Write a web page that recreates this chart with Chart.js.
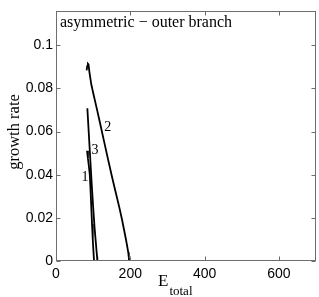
<!DOCTYPE html>
<html><head><meta charset="utf-8">
<script src="https://cdn.jsdelivr.net/npm/chart.js@4"></script>
<style>html,body{margin:0;padding:0;background:#fff}</style>
</head><body>
<canvas id="c" width="319" height="297" style="width:319px;height:297px;display:block"></canvas>
<script>
// ---- data ----
const xTicks = [0, 200, 400, 600];
const yTicks = [0, 0.02, 0.04, 0.06, 0.08, 0.1];

const curve1E = [83.6, 86, 88.5, 91, 93, 95, 97, 99, 101, 102.4];
const curve1G = [0.0511, 0.0475, 0.0440, 0.0400, 0.0330, 0.0250, 0.0170, 0.0100, 0.0040, 0.0];

const curve2E = [82.5, 84, 86, 87.5, 90, 95, 100, 110, 120, 130, 140, 150, 160, 170, 178, 184, 189, 192, 194.5, 196, 196.8];
const curve2G = [0.0884, 0.0903, 0.0914, 0.0911, 0.0876, 0.0819, 0.0780, 0.0705, 0.0628, 0.0550, 0.0472, 0.0396, 0.0323, 0.0252, 0.0190, 0.0138, 0.0094, 0.0065, 0.0040, 0.0018, 0.0];

const curve3E = [84.4, 88, 92, 96, 100, 104, 108, 110.5, 111.3];
const curve3G = [0.0708, 0.0600, 0.0480, 0.0360, 0.0250, 0.0150, 0.0070, 0.0020, 0.0];

const curveLabels = ['1', '2', '3'];
const curveLabelE = [78, 139, 105];
const curveLabelG = [0.039, 0.0619, 0.0515];

const titleText = 'asymmetric \u2212 outer branch';
const yTitle = 'growth rate';
const xTitleMain = 'E';
const xTitleSub = 'total';

const toPts = (xs, ys) => xs.map((x, i) => ({x: x, y: ys[i]}));

const decor = {
  id: 'decor',
  afterDraw(chart) {
    const ctx = chart.ctx, a = chart.chartArea;
    const xs = chart.scales.x, ys = chart.scales.y;
    ctx.save();
    ctx.strokeStyle = '#6e6e6e';
    ctx.lineWidth = 1;
    const L = Math.round(a.left) + 0.5, R = Math.round(a.right) - 0.5;
    const T = Math.round(a.top) + 0.5, B = Math.round(a.bottom) - 0.5;
    ctx.strokeRect(L, T, R - L, B - T);
    ctx.beginPath();
    const tl = 4;
    xTicks.forEach(v => {
      const px = Math.round(xs.getPixelForValue(v)) + 0.5;
      ctx.moveTo(px, B); ctx.lineTo(px, B - tl);
      ctx.moveTo(px, T); ctx.lineTo(px, T + tl);
    });
    yTicks.forEach(v => {
      const py = Math.round(ys.getPixelForValue(v)) + 0.5;
      ctx.moveTo(L, py); ctx.lineTo(L + tl, py);
      ctx.moveTo(R, py); ctx.lineTo(R - tl, py);
    });
    ctx.stroke();

    ctx.fillStyle = '#000';
    ctx.font = '16px "Liberation Serif"';
    ctx.textAlign = 'left';
    ctx.textBaseline = 'alphabetic';
    ctx.fillText(titleText, a.left + 4, a.top + 16);

    ctx.font = '14px "Liberation Serif"';
    ctx.textAlign = 'center';
    ctx.textBaseline = 'middle';
    curveLabels.forEach((t, i) => {
      ctx.fillText(t, xs.getPixelForValue(curveLabelE[i]), ys.getPixelForValue(curveLabelG[i]));
    });

    // y title
    ctx.save();
    ctx.translate(15, 132);
    ctx.rotate(-Math.PI / 2);
    ctx.font = '16.5px "Liberation Serif"';
    ctx.textAlign = 'center';
    ctx.textBaseline = 'middle';
    ctx.fillText(yTitle, 0, 0);
    ctx.restore();

    // x title with subscript
    ctx.textAlign = 'left';
    ctx.textBaseline = 'alphabetic';
    ctx.font = '17px "Liberation Serif"';
    ctx.fillText(xTitleMain, 158, 286);
    const w = ctx.measureText(xTitleMain).width;
    ctx.font = '13px "Liberation Serif"';
    ctx.fillText(xTitleSub, 158 + w + 1, 295);
    ctx.restore();
  }
};

const ds = (xs, ys) => ({
  data: toPts(xs, ys),
  showLine: true,
  borderColor: '#000',
  borderWidth: 1.8,
  pointRadius: 0,
  tension: 0,
  fill: false
});

new Chart(document.getElementById('c'), {
  type: 'scatter',
  data: { datasets: [ds(curve1E, curve1G), ds(curve2E, curve2G), ds(curve3E, curve3G)] },
  options: {
    responsive: false,
    devicePixelRatio: 1,
    animation: false,
    layout: { padding: { top: 2, right: 3, left: 0, bottom: 0 } },
    plugins: { legend: { display: false }, tooltip: { enabled: false } },
    scales: {
      x: {
        type: 'linear', min: 0, max: 700,
        afterBuildTicks: s => { s.ticks = xTicks.map(v => ({value: v})); },
        afterFit: s => { s.height = 36; },
        grid: { display: false, drawTicks: false },
        border: { display: false },
        ticks: { autoSkip: false, maxRotation: 0, padding: 5, color: '#000',
                 font: { family: '"Liberation Sans"', size: 14 }, callback: v => String(v) }
      },
      y: {
        type: 'linear', min: 0, max: 0.1157,
        afterBuildTicks: s => { s.ticks = yTicks.map(v => ({value: v})); },
        afterFit: s => { s.width = 56; },
        grid: { display: false, drawTicks: false },
        border: { display: false },
        ticks: { autoSkip: false, padding: 3, color: '#000',
                 font: { family: '"Liberation Sans"', size: 14 }, callback: v => String(v) }
      }
    }
  },
  plugins: [decor]
});
</script>
</body></html>
